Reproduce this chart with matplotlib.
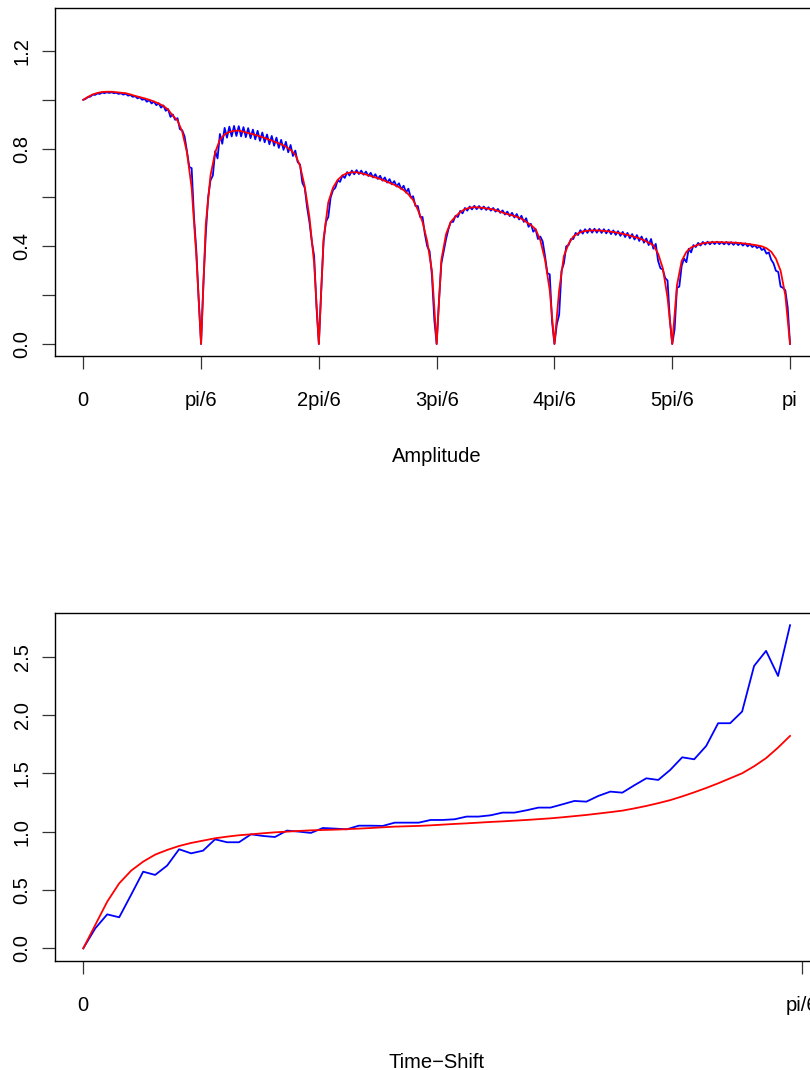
import numpy as np
import matplotlib.pyplot as plt

plt.rcParams['font.family'] = ['Liberation Sans', 'DejaVu Sans']

# ---- top panel: amplitude, one list per lobe between multiples of pi/6 ----
amp_red = [
    [1.0, 1.012, 1.022, 1.028, 1.032, 1.033, 1.033, 1.031, 1.029, 1.027, 1.022, 1.016, 1.011,
     1.006, 1.0, 0.993, 0.985, 0.975, 0.96, 0.935, 0.915, 0.87, 0.785, 0.64, 0.36, 0.0],
    [0.0, 0.49, 0.69, 0.785, 0.837, 0.858, 0.868, 0.873, 0.874, 0.869, 0.864, 0.859, 0.853,
     0.847, 0.84, 0.833, 0.825, 0.818, 0.808, 0.795, 0.775, 0.73, 0.645, 0.52, 0.33, 0.0],
    [0.0, 0.43, 0.58, 0.64, 0.672, 0.69, 0.70, 0.703, 0.703, 0.699, 0.694, 0.688, 0.682,
     0.676, 0.668, 0.66, 0.652, 0.642, 0.63, 0.613, 0.59, 0.55, 0.5, 0.42, 0.3, 0.0],
    [0.0, 0.345, 0.45, 0.5, 0.522, 0.54, 0.552, 0.558, 0.56, 0.559, 0.557, 0.554, 0.551,
     0.545, 0.538, 0.532, 0.527, 0.521, 0.513, 0.5, 0.487, 0.47, 0.425, 0.345, 0.22, 0.0],
    [0.0, 0.22, 0.36, 0.41, 0.44, 0.453, 0.461, 0.464, 0.465, 0.465, 0.464, 0.462, 0.46,
     0.457, 0.453, 0.449, 0.444, 0.438, 0.433, 0.425, 0.415, 0.404, 0.37, 0.31, 0.19, 0.0],
    [0.0, 0.24, 0.34, 0.377, 0.395, 0.403, 0.41, 0.414, 0.416, 0.417, 0.417, 0.416, 0.416,
     0.415, 0.414, 0.412, 0.41, 0.407, 0.404, 0.4, 0.392, 0.378, 0.35, 0.3, 0.2, 0.0],
]

amp_blue = [
    [1.0, 1.004, 1.011, 1.013, 1.021, 1.02, 1.026, 1.024, 1.03, 1.027, 1.031, 1.028, 1.031,
     1.027, 1.029, 1.024, 1.027, 1.021, 1.025, 1.017, 1.02, 1.012, 1.015, 1.006, 1.01, 1.0,
     1.004, 0.992, 0.999, 0.985, 0.993, 0.978, 0.986, 0.968, 0.977, 0.955, 0.962, 0.93, 0.94,
     0.918, 0.925, 0.88, 0.875, 0.85, 0.79, 0.725, 0.72, 0.52, 0.38, 0.18, 0.0],
    [0.0, 0.25, 0.45, 0.6, 0.67, 0.69, 0.79, 0.76, 0.86, 0.82, 0.885, 0.845, 0.89, 0.85,
     0.893, 0.852, 0.892, 0.85, 0.888, 0.847, 0.884, 0.843, 0.878, 0.838, 0.873, 0.832,
     0.866, 0.826, 0.858, 0.818, 0.852, 0.812, 0.845, 0.803, 0.836, 0.795, 0.828, 0.785,
     0.815, 0.77, 0.792, 0.745, 0.735, 0.66, 0.64, 0.56, 0.5, 0.42, 0.36, 0.15, 0.0],
    [0.0, 0.22, 0.42, 0.5, 0.52, 0.6, 0.63, 0.64, 0.67, 0.664, 0.69, 0.68, 0.704, 0.69,
     0.71, 0.695, 0.712, 0.696, 0.71, 0.693, 0.706, 0.688, 0.701, 0.682, 0.695, 0.676,
     0.689, 0.669, 0.682, 0.661, 0.675, 0.654, 0.667, 0.645, 0.658, 0.634, 0.648, 0.62,
     0.636, 0.6, 0.605, 0.565, 0.565, 0.52, 0.52, 0.45, 0.4, 0.38, 0.28, 0.1, 0.0],
    [0.0, 0.18, 0.33, 0.38, 0.43, 0.47, 0.5, 0.5, 0.525, 0.52, 0.545, 0.535, 0.557, 0.546,
     0.563, 0.551, 0.566, 0.552, 0.565, 0.551, 0.563, 0.549, 0.56, 0.546, 0.557, 0.542,
     0.553, 0.537, 0.547, 0.53, 0.542, 0.524, 0.537, 0.518, 0.532, 0.51, 0.525, 0.5, 0.515,
     0.48, 0.492, 0.46, 0.47, 0.43, 0.44, 0.42, 0.36, 0.29, 0.285, 0.09, 0.0],
    [0.0, 0.08, 0.12, 0.3, 0.33, 0.4, 0.405, 0.43, 0.43, 0.455, 0.446, 0.466, 0.452, 0.47,
     0.455, 0.472, 0.456, 0.472, 0.456, 0.471, 0.455, 0.47, 0.453, 0.468, 0.45, 0.465,
     0.447, 0.462, 0.443, 0.459, 0.438, 0.455, 0.433, 0.45, 0.428, 0.446, 0.422, 0.44,
     0.415, 0.432, 0.405, 0.43, 0.39, 0.41, 0.34, 0.31, 0.305, 0.27, 0.26, 0.1, 0.0],
    [0.0, 0.06, 0.23, 0.235, 0.32, 0.35, 0.335, 0.39, 0.375, 0.405, 0.397, 0.414, 0.403,
     0.418, 0.407, 0.419, 0.408, 0.419, 0.409, 0.419, 0.409, 0.418, 0.408, 0.418, 0.407,
     0.417, 0.406, 0.416, 0.405, 0.414, 0.403, 0.412, 0.4, 0.409, 0.397, 0.405, 0.393, 0.4,
     0.385, 0.39, 0.37, 0.375, 0.345, 0.33, 0.3, 0.295, 0.235, 0.23, 0.22, 0.15, 0.0],
]

amp_ticks = ['0', 'pi/6', '2pi/6', '3pi/6', '4pi/6', '5pi/6', 'pi']

# ---- bottom panel: time-shift ----
shift_blue = [0.0, 0.171, 0.291, 0.266, 0.46, 0.657, 0.629, 0.709, 0.849, 0.814,
              0.837, 0.934, 0.909, 0.909, 0.977, 0.963, 0.954, 1.009, 1.0, 0.989,
              1.031, 1.026, 1.02, 1.051, 1.051, 1.049, 1.077, 1.077, 1.077, 1.1,
              1.1, 1.106, 1.129, 1.129, 1.14, 1.163, 1.163, 1.183, 1.206, 1.206,
              1.234, 1.263, 1.257, 1.306, 1.343, 1.334, 1.397, 1.457, 1.443, 1.529,
              1.637, 1.62, 1.734, 1.929, 1.929, 2.029, 2.42, 2.549, 2.334, 2.769]
shift_red = [0.0, 0.2, 0.4, 0.557, 0.666, 0.743, 0.803, 0.843, 0.877, 0.903,
             0.923, 0.943, 0.957, 0.969, 0.977, 0.986, 0.994, 1.0, 1.006, 1.011,
             1.014, 1.017, 1.021, 1.026, 1.031, 1.037, 1.043, 1.046, 1.049, 1.054,
             1.06, 1.066, 1.071, 1.077, 1.083, 1.088, 1.094, 1.1, 1.107, 1.114,
             1.123, 1.133, 1.143, 1.155, 1.167, 1.18, 1.199, 1.22, 1.244, 1.27,
             1.302, 1.337, 1.374, 1.414, 1.457, 1.5, 1.56, 1.63, 1.72, 1.82]
shift_ticks = ['0', 'pi/6']


def join_lobes(lobes):
    # neighbouring lobes share their end point at the dip
    vals = list(lobes[0])
    for lobe in lobes[1:]:
        vals += lobe[1:]
    return np.array(vals)


def r_style(ax):
    for s in ax.spines.values():
        s.set_linewidth(1.0)
        s.set_color('black')
    ax.tick_params(direction='out', length=9.4, width=0.9, labelsize=14.5, color='#333333')
    ax.tick_params(axis='x', pad=16)
    ax.tick_params(axis='y', pad=7.5)


W, H = 810, 1070
fig = plt.figure(figsize=(W / 100, H / 100), dpi=100)

# top: amplitude
red_top = join_lobes(amp_red)
blue_top = join_lobes(amp_blue)
x_red = np.linspace(0, np.pi, len(red_top))
x_blue = np.linspace(0, np.pi, len(blue_top))

ax1 = fig.add_axes([55 / W, 1 - 355.7 / H, 763.3 / W, 348.2 / H])
ax1.plot(x_blue, blue_top, color='#0000FF', lw=1.3)
ax1.plot(x_red, red_top, color='#FF0000', lw=1.3)
ax1.set_xlim(-0.04 * np.pi, 1.04 * np.pi)
ax1.set_ylim(-0.048, 1.378)
ax1.set_xticks(np.arange(7) * np.pi / 6)
ax1.set_xticklabels(amp_ticks)
yt = np.arange(7) * 0.2
ax1.set_yticks(yt)
ax1.set_yticklabels([f'{v:.1f}' if i % 2 == 0 else '' for i, v in enumerate(yt)],
                    rotation=90, va='center')
r_style(ax1)
ax1.set_xlabel('Amplitude', fontsize=14.5)
ax1.xaxis.label.set_va('center')
ax1.xaxis.set_label_coords(0.5, -0.29)

# bottom: time shift
x_shift = np.arange(len(shift_blue)) * np.pi / 360
span = x_shift[-1]
ax2 = fig.add_axes([55 / W, 1 - 960.7 / H, 763.3 / W, 347.4 / H])
ax2.plot(x_shift, shift_blue, color='#0000FF', lw=1.3)
ax2.plot(x_shift, shift_red, color='#FF0000', lw=1.3)
ax2.set_xlim(-0.04 * span, 1.04 * span)
ax2.set_ylim(-0.106, 2.871)
ax2.set_xticks([0, np.pi / 6])
ax2.set_xticklabels(shift_ticks)
yt2 = np.arange(6) * 0.5
ax2.set_yticks(yt2)
ax2.set_yticklabels([f'{v:.1f}' for v in yt2], rotation=90, va='center')
r_style(ax2)
ax2.set_xlabel('Time\u2212Shift', fontsize=14.5)
ax2.xaxis.label.set_va('center')
ax2.xaxis.set_label_coords(0.5, -0.292)

fig.savefig('out.png', dpi=100)
